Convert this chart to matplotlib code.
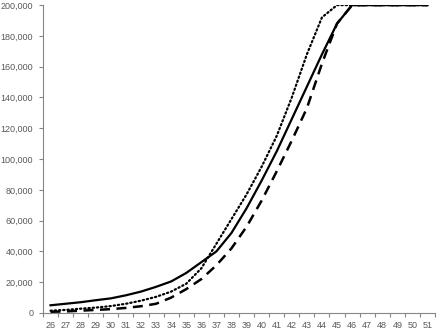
import matplotlib.pyplot as plt
from matplotlib.ticker import FuncFormatter

# ages on the category axis
ages = list(range(26, 52))

solid = [5000, 6000, 7000, 8300, 9500, 11500, 13900, 17000, 20500, 26000,
         33000, 40000, 52000, 68000, 86000, 105000, 126000, 147000, 168000, 188000,
         200000, 200000, 200000, 200000, 200000, 200000]
dotted = [1500, 2000, 2800, 3500, 4500, 6000, 8000, 10500, 13900, 19000,
          29000, 45000, 61000, 77000, 95000, 115000, 140000, 168000, 192000, 200000,
          200000, 200000, 200000, 200000, 200000, 200000]
dashed = [800, 1000, 1500, 2000, 2500, 3300, 4400, 6000, 10000, 15500,
          22000, 31000, 42000, 56000, 73000, 92000, 112000, 133000, 162000, 188000,
          200000, 200000, 200000, 200000, 200000, 200000]

plt.rcParams['font.family'] = ['Liberation Sans', 'DejaVu Sans']

fig = plt.figure(figsize=(4.46, 3.35), dpi=100)
ax = fig.add_axes([0.0964, 0.0657, 0.879, 0.919])

pos = list(range(len(ages)))
ax.plot(pos, dashed, color='black', lw=1.8, linestyle=(0, (4, 2.6)))
ax.plot(pos, dotted, color='black', lw=1.6, linestyle=(0, (0.6, 1.3)), dash_capstyle='round')
ax.plot(pos, solid, color='black', lw=1.6)

ax.set_xlim(-0.5, len(ages) - 0.5)
ax.set_ylim(0, 200000)
ax.set_yticks(range(0, 200001, 20000))
ax.yaxis.set_major_formatter(FuncFormatter(lambda v, p: f'{int(v):,}'))
ax.set_xticks(pos)
ax.set_xticklabels([str(a) for a in ages])
ax.set_xticks([p - 0.5 for p in pos] + [len(ages) - 0.5], minor=True)

for s in ['top', 'right']:
    ax.spines[s].set_visible(False)
for s in ['left', 'bottom']:
    ax.spines[s].set_color('#868686')
    ax.spines[s].set_linewidth(0.8)

ax.tick_params(axis='x', which='major', length=0, pad=6, labelsize=6.5, labelcolor='#595959')
ax.tick_params(axis='x', which='minor', length=3, direction='out', color='#868686', width=0.8)
ax.tick_params(axis='y', length=3, direction='out', color='#868686', width=0.8,
               labelsize=6.5, labelcolor='#595959', pad=4)

fig.savefig('out.png', dpi=100)
